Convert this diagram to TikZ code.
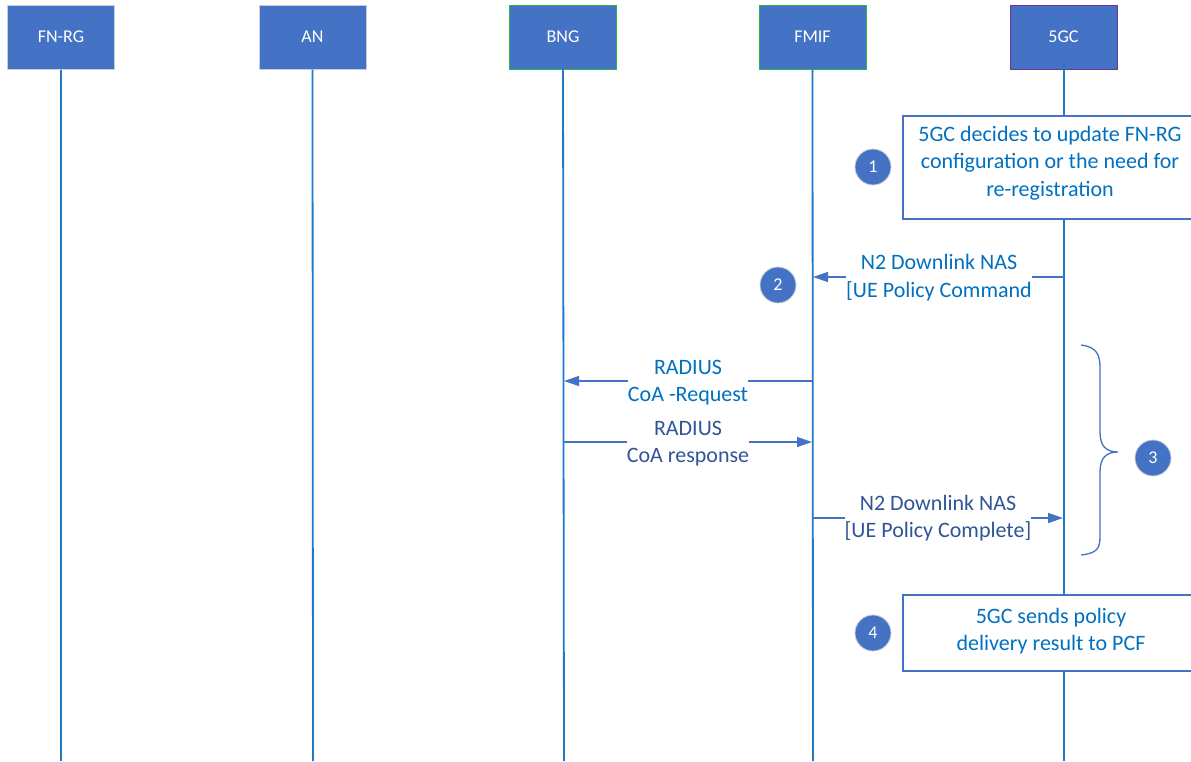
\documentclass[tikz,border=0pt]{standalone}
\usepackage{fontspec}
\setmainfont{Carlito}
\usetikzlibrary{arrows.meta}
\definecolor{boxblue}{HTML}{4472C4}
\definecolor{lifeblue}{HTML}{1F78C8}
\definecolor{txtblue}{HTML}{0070C0}
\definecolor{slate}{HTML}{2F5597}
\definecolor{edgegray}{HTML}{C9CDD6}
\definecolor{edgegreen}{HTML}{2DB34A}
\definecolor{edgepurple}{HTML}{7030A0}
\tikzset{
  entity/.style={draw=#1, line width=1pt, fill=boxblue, text=white,
    minimum width=107pt, minimum height=64pt, inner sep=0pt,
    font=\fontsize{18}{22}\selectfont},
  lifeline/.style={draw=lifeblue, line width=1.8pt},
  msg/.style={draw=boxblue, line width=1.4pt, -{Triangle[length=15pt,width=10pt]}},
  msglabel/.style={fill=white, inner sep=0pt, align=center,
    font=\fontsize{22}{27.5}\selectfont},
  stepnum/.style={circle, fill=boxblue, draw=edgegray, line width=0.8pt,
    minimum size=36pt, inner sep=0pt, text=white,
    font=\fontsize{18}{22}\selectfont},
  notebox/.style={draw=boxblue, line width=1.4pt}
}
\begin{document}
\begin{tikzpicture}[x=1pt,y=-1pt]
\useasboundingbox (0,0) rectangle (1191,761);

% participants
\node[entity=edgegray]   (fnrg) at (61,37)   {FN-RG};
\node[entity=edgegray]   (an)   at (312.5,37) {AN};
\node[entity=edgegreen]  (bng)  at (563,37)  {BNG};
\node[entity=edgegreen]  (fmif) at (812.5,37) {FMIF};
\node[entity=edgepurple] (gc)   at (1063.5,37) {5GC};

% lifeline ends
\coordinate (fnrgE) at (61,761);
\coordinate (anE)   at (313,761);
\coordinate (bngE)  at (564,761);
\coordinate (fmifE) at (813,761);
\coordinate (gcE)   at (1064,761);

\draw[lifeline] (fnrg.south) -- (fnrgE);
\draw[lifeline] (an.south) -- (anE);
\draw[lifeline] (bng.south) -- (bngE);
\draw[lifeline] (fmif.south) -- (fmifE);
\draw[lifeline] (1064,62) -- (gcE);

% step 1 note
\fill[white] (903,116) rectangle (1191,219);
\draw[notebox] (1191,116) -| (903,219) -- (1191,219);
\node[msglabel, text=txtblue, fill=none] (note1) at (1050,163)
  {5GC decides to update FN-RG\\configuration or the need for\\re-registration};
\node[stepnum] (s1) at (873,167) {1};

% step 2
\coordinate (m2a) at (1064,277);
\coordinate (m2b) at (813,277);
\draw[msg] (m2a) -- (m2b);
\node[msglabel, text=txtblue] (l2) at (939,277.5)
  {N2 Downlink NAS\\{}[UE Policy Command};
\node[stepnum] (s2) at (778,285) {2};

% step 3 messages
\coordinate (m3a) at (813,381);
\coordinate (m3b) at (564,381);
\draw[msg] (m3a) -- (m3b);
\node[msglabel, text=txtblue] (l3a) at (688,382.5) {RADIUS\\CoA -Request};

\coordinate (m3c) at (563,442);
\coordinate (m3d) at (812,442);
\draw[msg] (m3c) -- (m3d);
\node[msglabel, text=slate] (l3b) at (688,443.5) {RADIUS\\CoA response};

\coordinate (m3e) at (813,518);
\coordinate (m3f) at (1063,518);
\draw[msg] (m3e) -- (m3f);
\node[msglabel, text=slate] (l3c) at (938,518) {N2 Downlink NAS\\{}[UE Policy Complete]};

% brace grouping step 3
\draw[boxblue, line width=1.3pt]
  (1081,345) .. controls (1097,347) and (1100,355) .. (1100,368)
  -- (1100,432) .. controls (1100,446) and (1106,452) .. (1118,452)
  .. controls (1106,452) and (1100,458) .. (1100,472)
  -- (1100,536) .. controls (1100,549) and (1097,553) .. (1081,555);
\node[stepnum] (s3) at (1153,458) {3};

% step 4 note
\fill[white] (903,595) rectangle (1191,671);
\draw[notebox] (1191,595) -| (903,671) -- (1191,671);
\node[msglabel, text=txtblue, fill=none] (note4) at (1051,631)
  {5GC sends policy\\delivery result to PCF};
\node[stepnum] (s4) at (873,633) {4};
\end{tikzpicture}
\end{document}
